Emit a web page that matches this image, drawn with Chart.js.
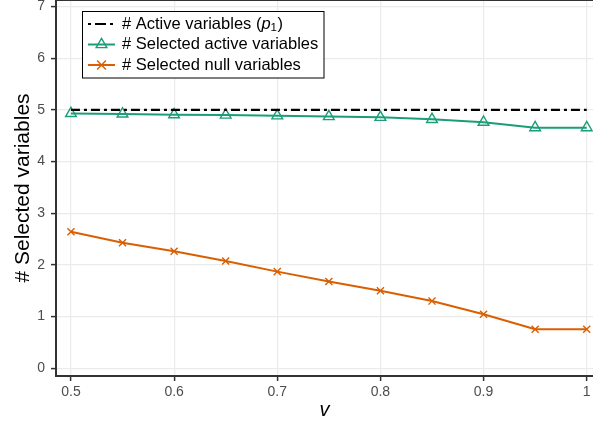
<!DOCTYPE html>
<html>
<head>
<meta charset="utf-8">
<script src="https://cdn.jsdelivr.net/npm/chart.js@4/dist/chart.umd.min.js"></script>
<style>
  html, body { margin: 0; padding: 0; background: #fff; }
  canvas { display: block; }
</style>
</head>
<body>
<canvas id="chart" width="593" height="423"></canvas>
<script>
// values
const nuValues = [0.5, 0.55, 0.6, 0.65, 0.7, 0.75, 0.8, 0.85, 0.9, 0.95, 1.0];
const activeVars = [5, 5, 5, 5, 5, 5, 5, 5, 5, 5, 5];
const selectedActive = [4.93, 4.92, 4.905, 4.9, 4.885, 4.87, 4.855, 4.815, 4.76, 4.655, 4.655];
const selectedNull = [2.64, 2.43, 2.265, 2.075, 1.87, 1.68, 1.5, 1.3, 1.045, 0.755, 0.755];
const xTicks = [0.5, 0.6, 0.7, 0.8, 0.9, 1.0];
const yTicks = [0, 1, 2, 3, 4, 5, 6, 7];

const FONT = "'Liberation Sans', Arial, Helvetica, sans-serif";
const GREEN = "#1b9e77";
const ORANGE = "#d95f02";
const AXIS = "#333333";
const GRID = "#ebebeb";
const LEGEND_SIZE = 16.5;

const toPoints = (values) => nuValues.map((x, i) => ({ x, y: values[i] }));

const fixTicks = (list) => (scale) => {
    scale.ticks = list.map(value => ({ value }));
};

const drawSample = (ctx, x0, x1, y, style) => {
    ctx.save();
    ctx.strokeStyle = style.color;
    ctx.lineWidth = style.width;
    ctx.setLineDash(style.dash || []);
    ctx.beginPath();
    ctx.moveTo(x0, y);
    ctx.lineTo(x1, y);
    ctx.stroke();
    ctx.setLineDash([]);
    const cx = (x0 + x1) / 2;
    if (style.marker === "triangle") {
        const r = 6.2;
        ctx.lineWidth = 1.4;
        ctx.beginPath();
        ctx.moveTo(cx, y - r);
        ctx.lineTo(cx + r * 0.866, y + r * 0.5);
        ctx.lineTo(cx - r * 0.866, y + r * 0.5);
        ctx.closePath();
        ctx.stroke();
    } else if (style.marker === "cross") {
        const r = 4.4;
        ctx.lineWidth = 1.4;
        ctx.beginPath();
        ctx.moveTo(cx - r, y - r);
        ctx.lineTo(cx + r, y + r);
        ctx.moveTo(cx + r, y - r);
        ctx.lineTo(cx - r, y + r);
        ctx.stroke();
    }
    ctx.restore();
};

const legendPlugin = {
    id: "boxLegend",
    afterDraw(chart) {
        const ctx = chart.ctx;
        const area = chart.chartArea;

        // top panel edge
        ctx.save();
        ctx.strokeStyle = AXIS;
        ctx.lineWidth = 2;
        ctx.beginPath();
        ctx.moveTo(area.left, area.top);
        ctx.lineTo(area.right, area.top);
        ctx.stroke();
        ctx.restore();

        const box = { x: 82.5, y: 11.5, w: 241.5, h: 66.5 };
        ctx.save();
        ctx.fillStyle = "#fff";
        ctx.fillRect(box.x, box.y, box.w, box.h);
        ctx.strokeStyle = "#000";
        ctx.lineWidth = 1;
        ctx.strokeRect(box.x, box.y, box.w, box.h);

        const rows = [24, 44.5, 65];
        drawSample(ctx, 88, 115, rows[0], { color: "#000", width: 2.2, dash: [3, 4, 11, 4] });
        drawSample(ctx, 88, 115, rows[1], { color: GREEN, width: 2, marker: "triangle" });
        drawSample(ctx, 88, 115, rows[2], { color: ORANGE, width: 2, marker: "cross" });

        ctx.fillStyle = "#000";
        ctx.textBaseline = "middle";
        ctx.textAlign = "left";
        const tx = 122;
        const base = LEGEND_SIZE + "px " + FONT;
        ctx.font = base;
        const first = "# Active variables (";
        ctx.fillText(first, tx, rows[0]);
        let x = tx + ctx.measureText(first).width;
        ctx.font = "italic " + base;
        ctx.fillText("p", x, rows[0]);
        x += ctx.measureText("p").width;
        ctx.font = "11.5px " + FONT;
        ctx.fillText("1", x, rows[0] + 4);
        x += ctx.measureText("1").width + 0.5;
        ctx.font = base;
        ctx.fillText(")", x, rows[0]);

        ctx.fillText("# Selected active variables", tx, rows[1]);
        ctx.fillText("# Selected null variables", tx, rows[2]);
        ctx.restore();
    }
};

new Chart(document.getElementById("chart"), {
    type: "line",
    data: {
        datasets: [
            {
                label: "# Active variables (p1)",
                data: toPoints(activeVars),
                borderColor: "#000",
                borderWidth: 2.2,
                borderDash: [9, 4, 3, 4],
                pointRadius: 0
            },
            {
                label: "# Selected active variables",
                data: toPoints(selectedActive),
                borderColor: GREEN,
                borderWidth: 2,
                pointStyle: "triangle",
                pointRadius: 6.2,
                pointBorderWidth: 1.4,
                pointBorderColor: GREEN,
                pointBackgroundColor: "rgba(0,0,0,0)"
            },
            {
                label: "# Selected null variables",
                data: toPoints(selectedNull),
                borderColor: ORANGE,
                borderWidth: 2,
                pointStyle: "crossRot",
                pointRadius: 5,
                pointBorderWidth: 1.4,
                pointBorderColor: ORANGE
            }
        ]
    },
    options: {
        responsive: false,
        animation: false,
        layout: { padding: 0, autoPadding: false },
        plugins: {
            legend: { display: false },
            tooltip: { enabled: false }
        },
        scales: {
            x: {
                type: "linear",
                min: 0.4855,
                max: 1.0061,
                afterBuildTicks: fixTicks(xTicks),
                afterFit: (scale) => {
                    scale.height = 47;
                    scale.paddingLeft = 0;
                    scale.paddingRight = 0;
                },
                grid: { color: GRID, lineWidth: 1.2, tickColor: AXIS, tickLength: 5, tickWidth: 1.5 },
                border: { color: AXIS, width: 2 },
                ticks: {
                    color: "#4d4d4d",
                    font: { family: FONT, size: 14 },
                    padding: 3,
                    maxRotation: 0,
                    callback: (v) => String(Math.round(v * 10) / 10)
                },
                title: {
                    display: true,
                    text: "v",
                    color: "#000",
                    font: { family: FONT, size: 20, style: "italic" },
                    padding: { top: 0, bottom: 1 }
                }
            },
            y: {
                type: "linear",
                min: -0.149,
                max: 7.124,
                afterBuildTicks: fixTicks(yTicks),
                afterFit: (scale) => {
                    scale.width = 56;
                    scale.paddingTop = 0;
                    scale.paddingBottom = 0;
                },
                grid: { color: GRID, lineWidth: 1.2, tickColor: AXIS, tickLength: 5, tickWidth: 1.5 },
                border: { color: AXIS, width: 2 },
                ticks: {
                    color: "#4d4d4d",
                    font: { family: FONT, size: 14 },
                    padding: 6
                },
                title: {
                    display: true,
                    text: "# Selected variables",
                    color: "#000",
                    font: { family: FONT, size: 21 },
                    padding: { top: 11, bottom: 0 }
                }
            }
        }
    },
    plugins: [legendPlugin]
});
</script>
</body>
</html>
